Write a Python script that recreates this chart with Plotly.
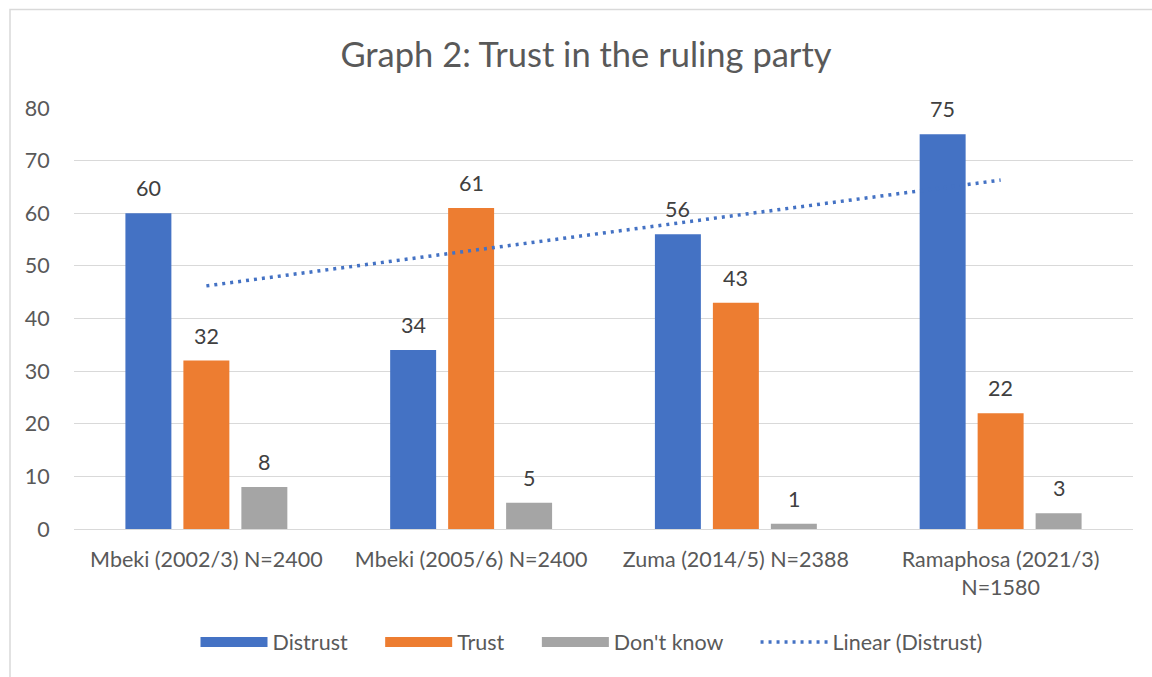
import plotly.graph_objects as go
import numpy as np

# ---- data ----
categories = ["Mbeki (2002/3) N=2400", "Mbeki (2005/6) N=2400",
              "Zuma (2014/5) N=2388", "Ramaphosa (2021/3)<br>N=1580"]
distrust = [60, 34, 56, 75]
trust = [32, 61, 43, 22]
dont_know = [8, 5, 1, 3]
y_ticks = [0, 10, 20, 30, 40, 50, 60, 70, 80]
title_text = "Graph 2: Trust in the ruling party"
series_names = ["Distrust", "Trust", "Don't know"]
trend_name = "Linear (Distrust)"

# ---- styles ----
W, H = 1152, 677
ML, MR, MT, MB = 74, 19, 108, 148
PW, PH = W - ML - MR, H - MT - MB
FONT = "Lato"
FS = 21.5
C_BLUE, C_ORANGE, C_GREY = "#4472C4", "#ED7D31", "#A5A5A5"
COLORS = [C_BLUE, C_ORANGE, C_GREY]
GRID = "#D9D9D9"
BAR_STEP = 58  # px between bar centres within a group
PAD = "\u00a0" * 5


def px_x(p):
    return (p - ML) / PW


def px_y(p):
    return (H - MB - p) / PH


# linear trend for Distrust (least squares over category index)
idx = np.arange(1, len(distrust) + 1)
slope, intercept = np.polyfit(idx, distrust, 1)
trend = list(slope * idx + intercept)

series = [distrust, trust, dont_know]

fig = go.Figure()
annotations = []
for k, (name, vals, col) in enumerate(zip(series_names, series, COLORS)):
    fig.add_trace(go.Bar(
        x=categories, y=vals, name=name,
        marker=dict(color=col, line=dict(width=0)),
        showlegend=False, hovertemplate="%{x}: %{y}<extra>" + name + "</extra>"))
    for c, v in zip(categories, vals):
        annotations.append(dict(
            x=c, y=v, xref="x", yref="y", text=str(v), showarrow=False,
            xshift=(k - 1) * BAR_STEP, yshift=25, yanchor="middle", xanchor="center",
            font=dict(family=FONT, size=FS, color="#404040")))

fig.add_trace(go.Scatter(
    x=categories, y=trend, mode="lines", name=trend_name,
    line=dict(color=C_BLUE, width=3.5, dash="3px,5px"), showlegend=False,
    hoverinfo="skip"))

# legend entries
for name, col in zip(series_names, COLORS):
    fig.add_trace(go.Scatter(x=[None], y=[None], mode="lines", name=name + PAD,
                             line=dict(color=col, width=18)))
fig.add_trace(go.Scatter(x=[None], y=[None], mode="lines", name=trend_name,
                         line=dict(color=C_BLUE, width=3.5, dash="3px,5px")))

fig.update_layout(
    width=W, height=H,
    margin=dict(l=ML, r=MR, t=MT, b=MB),
    paper_bgcolor="white", plot_bgcolor="white",
    font=dict(family=FONT, color="#595959"),
    barmode="group", bargap=0.343, bargroupgap=0.207,
    title=dict(text=title_text, x=586 / W, xanchor="center", xref="container",
               y=1 - 55 / H, yanchor="middle",
               font=dict(family=FONT, size=34.5, color="#595959")),
    legend=dict(orientation="h", x=px_x(591.5), xanchor="center", y=px_y(642), yanchor="middle",
                itemwidth=67, font=dict(family=FONT, size=FS, color="#595959"),
                traceorder="normal"),
    xaxis=dict(showgrid=False, showline=False, ticks="outside", ticklen=11,
               tickcolor="rgba(0,0,0,0)", tickfont=dict(family=FONT, size=FS, color="#595959")),
    yaxis=dict(range=[0, 80], tickvals=y_ticks, showgrid=True, gridcolor=GRID, gridwidth=1.3,
               zeroline=True, zerolinecolor=GRID, zerolinewidth=1.3, showline=False,
               ticks="outside", ticklen=19, tickcolor="rgba(0,0,0,0)",
               tickfont=dict(family=FONT, size=FS, color="#595959")),
    annotations=annotations,
    shapes=[dict(type="rect", xref="paper", yref="paper",
                 x0=px_x(10), x1=px_x(1200), y0=px_y(720), y1=px_y(9.5),
                 line=dict(color=GRID, width=1.5), fillcolor="rgba(0,0,0,0)", layer="below")],
)

fig.write_html("out.html")
